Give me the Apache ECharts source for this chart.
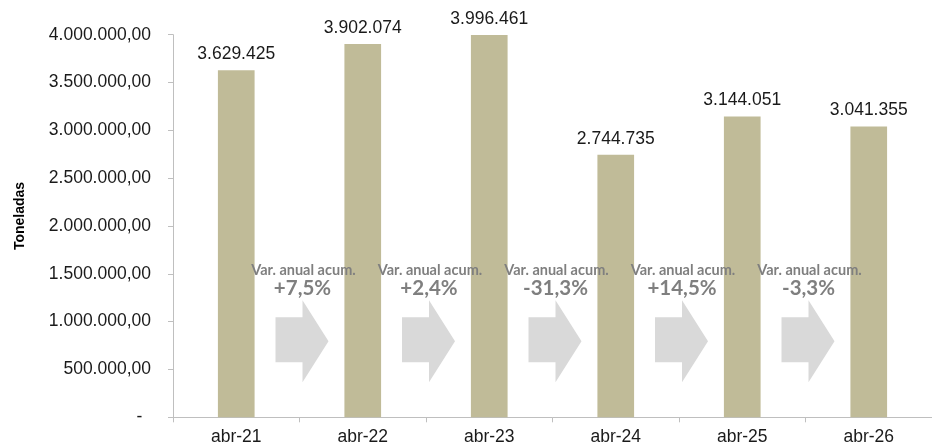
<!DOCTYPE html>
<html>
<head>
<meta charset="utf-8">
<script src="https://cdn.jsdelivr.net/npm/echarts@6/dist/echarts.min.js"></script>
<style>html,body{margin:0;padding:0;background:#fff}#c{width:932px;height:447px}</style>
</head>
<body>
<div id="c"></div>
<script>
var categories = ['abr-21', 'abr-22', 'abr-23', 'abr-24', 'abr-25', 'abr-26'];
var values = [3629425, 3902074, 3996461, 2744735, 3144051, 3041355];
var variations = ['+7,5%', '+2,4%', '-31,3%', '+14,5%', '-3,3%'];
var varTitle = 'Var. anual acum.';
var yAxisName = 'Toneladas';

function fmtThousands(n) {
  return String(Math.round(n)).replace(/\B(?=(\d{3})+(?!\d))/g, '.');
}

var chart = echarts.init(document.getElementById('c'), null, {renderer: 'canvas'});
var baseFont = 'Liberation Sans, Arial, sans-serif';
var axisColor = '#bfbfbf';

chart.setOption({
  animation: false,
  backgroundColor: '#ffffff',
  grid: {left: 173, right: -4, top: 34.7, bottom: 29.7, containLabel: false},
  xAxis: {
    type: 'category',
    data: categories,
    axisLine: {lineStyle: {color: axisColor, width: 1}},
    axisTick: {show: true, alignWithLabel: false, length: 5, lineStyle: {color: axisColor}},
    axisLabel: {color: '#1a1a1a', fontSize: 17.5, fontFamily: baseFont, margin: 11}
  },
  yAxis: {
    type: 'value',
    min: 0,
    max: 4000000,
    interval: 500000,
    splitLine: {show: false},
    axisLine: {show: true, lineStyle: {color: axisColor, width: 1}},
    axisTick: {show: true, length: 5, lineStyle: {color: axisColor}},
    axisLabel: {
      color: '#1a1a1a', fontSize: 17.5, fontFamily: baseFont, margin: 22,
      formatter: function (v) { return v === 0 ? '-\u2002' : fmtThousands(v) + ',00'; }
    }
  },
  graphic: [{
    type: 'text',
    x: 20, y: 216,
    rotation: Math.PI / 2,
    style: {text: yAxisName, font: 'bold 14px ' + baseFont, fill: '#000', textAlign: 'center', textVerticalAlign: 'middle'}
  }],
  series: [{
    type: 'bar',
    data: values,
    barWidth: '29%',
    itemStyle: {color: '#c0bb98'},
    z: 2,
    label: {
      show: true, position: 'top', distance: 7,
      color: '#1a1a1a', fontSize: 17.5, fontFamily: baseFont,
      formatter: function (p) { return fmtThousands(p.value); }
    }
  }, {
    type: 'custom',
    z: 5,
    data: variations.map(function (v, i) { return [i, 0]; }),
    renderItem: function (params, api) {
      var i = params.dataIndex;
      var c = api.coord([api.value(0), 0]);
      var band = api.size([1, 0])[0];
      var bx = c[0] + band / 2;
      var by = c[1];
      var tipY = by - 76;
      var pts = [
        [bx - 24, tipY - 24], [bx + 3, tipY - 24], [bx + 3, tipY - 41],
        [bx + 29, tipY], [bx + 3, tipY + 41], [bx + 3, tipY + 21], [bx - 24, tipY + 21]
      ];
      return {
        type: 'group',
        children: [{
          type: 'polygon',
          shape: {points: pts},
          style: {fill: '#d9d9d9'}
        }, {
          type: 'text',
          x: bx + 4, y: by - 147,
          style: {text: varTitle, font: 'bold 14.5px Lato, "Open Sans", sans-serif', fill: '#7f7f7f', textAlign: 'center', textVerticalAlign: 'middle'}
        }, {
          type: 'text',
          x: bx + 3, y: by - 129,
          style: {text: variations[i], font: 'bold 20.5px Lato, "Open Sans", sans-serif', fill: '#7f7f7f', textAlign: 'center', textVerticalAlign: 'middle'}
        }]
      };
    }
  }]
});
</script>
</body>
</html>
